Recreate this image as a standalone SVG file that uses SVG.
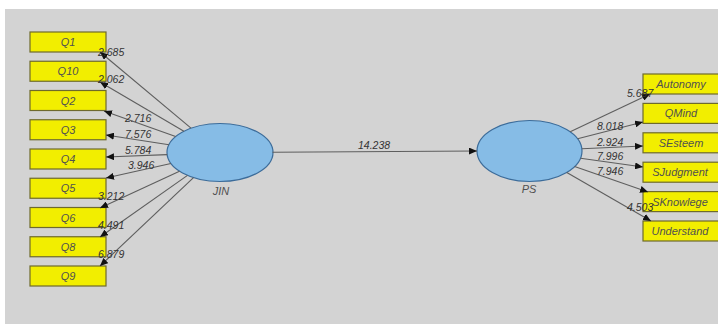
<svg xmlns="http://www.w3.org/2000/svg" width="718" height="324" viewBox="0 0 718 324">
  <defs>
    <marker id="arrow" markerUnits="userSpaceOnUse" markerWidth="8" markerHeight="7" refX="8" refY="3.5" orient="auto">
      <path d="M0,0 L8,3.5 L0,7 z" fill="#111"/>
    </marker>
    <style>
      .bg { fill: #d3d3d3; }
      .ind rect { fill: #f2ee00; stroke: #6e6a2c; stroke-width: 1.2; }
      .ind text { font-family: "Liberation Sans", Arial, sans-serif; font-style: italic; font-size: 11px; fill: #505050; text-anchor: middle; }
      .lv ellipse { fill: #86bce6; stroke: #3c6c9a; stroke-width: 1.2; }
      .lv text { font-family: "Liberation Sans", Arial, sans-serif; font-style: italic; font-size: 11px; fill: #505050; text-anchor: middle; }
      .edges line { stroke: #5e5e5e; stroke-width: 1.1; marker-end: url(#arrow); }
      .edges text { font-family: "Liberation Sans", Arial, sans-serif; font-style: italic; font-size: 10.5px; fill: #333; }
    </style>
  </defs>

  <rect x="0" y="0" width="718" height="324" fill="#ffffff"/>
  <rect class="bg" x="5" y="9" width="713" height="315"/>

  <!-- latent variables -->
  <g id="JIN" class="lv">
    <ellipse cx="220" cy="152.5" rx="53" ry="29"/>
    <text x="221" y="195">JIN</text>
  </g>
  <g id="PS" class="lv">
    <ellipse cx="529.5" cy="151" rx="52.5" ry="30.5"/>
    <text x="529" y="193">PS</text>
  </g>

  <!-- JIN indicators -->
  <g id="Q1" class="ind"><rect x="30" y="32" width="76" height="20"/><text x="68" y="46">Q1</text></g>
  <g id="Q10" class="ind"><rect x="30" y="61.25" width="76" height="20"/><text x="68" y="75.25">Q10</text></g>
  <g id="Q2" class="ind"><rect x="30" y="90.5" width="76" height="20"/><text x="68" y="104.5">Q2</text></g>
  <g id="Q3" class="ind"><rect x="30" y="119.75" width="76" height="20"/><text x="68" y="133.75">Q3</text></g>
  <g id="Q4" class="ind"><rect x="30" y="149" width="76" height="20"/><text x="68" y="163">Q4</text></g>
  <g id="Q5" class="ind"><rect x="30" y="178.25" width="76" height="20"/><text x="68" y="192.25">Q5</text></g>
  <g id="Q6" class="ind"><rect x="30" y="207.5" width="76" height="20"/><text x="68" y="221.5">Q6</text></g>
  <g id="Q8" class="ind"><rect x="30" y="236.75" width="76" height="20"/><text x="68" y="250.75">Q8</text></g>
  <g id="Q9" class="ind"><rect x="30" y="266" width="76" height="20"/><text x="68" y="280">Q9</text></g>

  <!-- PS indicators -->
  <g id="Autonomy" class="ind"><rect x="643" y="74" width="76" height="20"/><text x="681" y="88">Autonomy</text></g>
  <g id="QMind" class="ind"><rect x="643" y="103.4" width="76" height="20"/><text x="681" y="117.4">QMind</text></g>
  <g id="SEsteem" class="ind"><rect x="643" y="132.8" width="76" height="20"/><text x="681" y="146.8">SEsteem</text></g>
  <g id="SJudgment" class="ind"><rect x="643" y="162.2" width="76" height="20"/><text x="680" y="176.2">SJudgment</text></g>
  <g id="SKnowlege" class="ind"><rect x="643" y="191.6" width="76" height="20"/><text x="680" y="205.6">SKnowlege</text></g>
  <g id="Understand" class="ind"><rect x="643" y="221" width="76" height="20"/><text x="680" y="235">Understand</text></g>

  <!-- connectors: path coefficient and outer loadings, drawn over the nodes -->
  <g id="connectors" class="edges">
    <line x1="272.5" y1="152.3" x2="477" y2="151"/>
    <text x="358" y="149">14.238</text>

    <line x1="191" y1="128.2" x2="100" y2="52"/>
    <line x1="183.9" y1="131.3" x2="100" y2="82"/>
    <line x1="175.6" y1="136.6" x2="104" y2="111"/>
    <line x1="169" y1="144.7" x2="106" y2="135"/>
    <line x1="167.1" y1="154.6" x2="106" y2="157"/>
    <line x1="170.9" y1="163.5" x2="106" y2="178"/>
    <line x1="179.5" y1="171.2" x2="100" y2="208"/>
    <line x1="187.5" y1="175.4" x2="100" y2="237"/>
    <line x1="193.5" y1="177.6" x2="100" y2="266"/>

    <text x="98" y="56">2.685</text>
    <text x="98" y="83">2.062</text>
    <text x="125" y="122">2.716</text>
    <text x="125" y="138">7.576</text>
    <text x="125" y="154">5.784</text>
    <text x="128" y="169">3.946</text>
    <text x="98" y="200">3.212</text>
    <text x="98" y="229">4.491</text>
    <text x="98" y="258">6.879</text>

    <line x1="570.2" y1="131.7" x2="650" y2="94"/>
    <line x1="577.6" y1="138.7" x2="643" y2="122"/>
    <line x1="581.9" y1="148.7" x2="643" y2="146"/>
    <line x1="580.5" y1="158.2" x2="643" y2="167"/>
    <line x1="574.6" y1="166.6" x2="648" y2="192"/>
    <line x1="566.8" y1="172.5" x2="651" y2="221"/>

    <text x="627" y="97">5.687</text>
    <text x="597" y="130">8.018</text>
    <text x="597" y="146">2.924</text>
    <text x="597" y="160">7.996</text>
    <text x="597" y="175">7.946</text>
    <text x="627" y="211">4.503</text>
  </g>
</svg>
